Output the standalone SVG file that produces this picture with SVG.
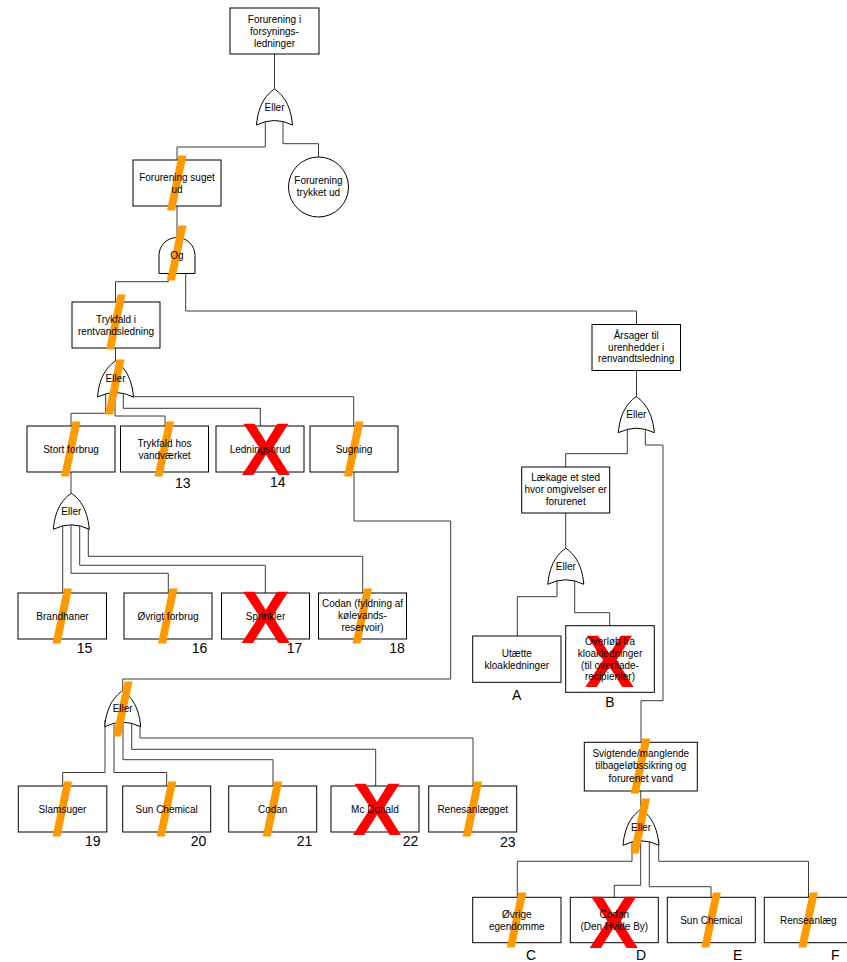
<svg xmlns="http://www.w3.org/2000/svg" xmlns:xlink="http://www.w3.org/1999/xlink" width="847" height="962" viewBox="0 0 847 962">
<style>
.bg{fill:#fff}
.box{fill:#fff;stroke:#000;stroke-width:1}
.gate{fill:#fff;stroke:#000;stroke-width:1}
.con{fill:none;stroke:#3a3a3a;stroke-width:1}
.t{font-family:"Liberation Sans",Arial,sans-serif;font-size:10px;fill:#000;text-anchor:middle}
.n{font-family:"Liberation Sans",Arial,sans-serif;font-size:14px;fill:#000}
.l{font-family:"Liberation Sans",Arial,sans-serif;font-size:14px;fill:#000;text-anchor:middle}
.x{font-family:"Liberation Sans",Arial,sans-serif;font-size:74px;font-weight:bold;fill:#ff0000;text-anchor:middle}
.sl{fill:#ff9900}
</style>
<defs>
<path id="or" d="M0,0 C6,4 16,13 18,36 Q0,27 -18,36 C-16,13 -6,4 0,0 Z"/>
<path id="and" d="M-18,36 L-18,18 A18,18 0 0 1 18,18 L18,36 Z"/>
<polygon id="slash" points="1.5,-27.5 9.5,-27.5 -2,27.5 -10,27.5"/>
</defs>
<rect class="bg" x="0" y="0" width="847" height="962"/>

<g id="connectors">
<polyline class="con" points="274.5,54 274.5,89"/>
<polyline class="con" points="265.3,120 265.3,147 177,147 177,160"/>
<polyline class="con" points="283,120 283,143.7 318.5,143.7 318.5,157"/>
<polyline class="con" points="177,206 177,237.7"/>
<polyline class="con" points="168.3,270 168.3,281.7 115.5,281.7 115.5,302"/>
<polyline class="con" points="185.7,270 185.7,311 636.5,311 636.5,324.5"/>
<polyline class="con" points="115.5,348 115.5,361"/>
<polyline class="con" points="105.7,390 105.7,413.3 71,413.3 71,426"/>
<polyline class="con" points="115,390 115,416 165,416 165,426"/>
<polyline class="con" points="123.3,390 123.3,408.3 260.3,408.3 260.3,426"/>
<polyline class="con" points="131,396.7 353.7,396.7 353.7,426"/>
<polyline class="con" points="71,472 71,493.3"/>
<polyline class="con" points="62.7,522 62.7,593"/>
<polyline class="con" points="71,522 71,573.3 168.3,573.3 168.3,593"/>
<polyline class="con" points="79.7,522 79.7,565.3 265.3,565.3 265.3,593"/>
<polyline class="con" points="88.3,525 88.3,556.3 362.7,556.3 362.7,593"/>
<polyline class="con" points="354,472 354,521 450.7,521 450.7,679 122.7,679 122.7,690.7"/>
<polyline class="con" points="105,720 105,772.5 62.7,772.5 62.7,786"/>
<polyline class="con" points="114,720 114,772.5 166.7,772.5 166.7,786"/>
<polyline class="con" points="123,720 123,759.7 273,759.7 273,786"/>
<polyline class="con" points="131.7,720 131.7,749.3 375.7,749.3 375.7,786"/>
<polyline class="con" points="140,722 140,738 473,738 473,786"/>
<polyline class="con" points="636.5,370.5 636.5,396.7"/>
<polyline class="con" points="627.3,425 627.3,453.7 565.7,453.7 565.7,467"/>
<polyline class="con" points="645.3,425 645.3,445 663,445 663,700.7 641,700.7 641,742.3"/>
<polyline class="con" points="565.7,513 565.7,548.3"/>
<polyline class="con" points="557,577 557,596.7 517.3,596.7 517.3,636"/>
<polyline class="con" points="574.7,577 574.7,612.7 609.7,612.7 609.7,625.7"/>
<polyline class="con" points="640.8,791 640.8,809.3"/>
<polyline class="con" points="632,838 632,861.3 517.3,861.3 517.3,897.3"/>
<polyline class="con" points="640.7,838 640.7,885.3 614.3,885.3 614.3,897.3"/>
<polyline class="con" points="649.3,838 649.3,886.7 711,886.7 711,897.3"/>
<polyline class="con" points="658.7,840 658.7,861.3 808.5,861.3 808.5,897.3"/>
</g>

<g id="top">
<rect class="box" x="230" y="8" width="89" height="46"/>
<text class="t" x="274.5" y="22.5">Forurening i</text>
<text class="t" x="274.5" y="34.5">forsynings-</text>
<text class="t" x="274.5" y="46.5">ledninger</text>
</g>
<g id="g1">
<use href="#or" x="274.5" y="89" class="gate"/>
<text class="t" x="274.5" y="110.5">Eller</text>
</g>
<g id="suget">
<rect class="box" x="133" y="160" width="88" height="46"/>
<use href="#slash" x="177" y="183" class="sl"/>
<text class="t" x="177" y="180.5">Forurening suget</text>
<text class="t" x="177" y="192.5">ud</text>
</g>
<g id="trykket">
<circle class="box" cx="318.5" cy="187" r="30"/>
<text class="t" x="318.5" y="183.5">Forurening</text>
<text class="t" x="318.5" y="195.5">trykket ud</text>
</g>
<g id="og">
<use href="#and" x="177" y="237.5" class="gate"/>
<use href="#slash" x="177" y="253" class="sl"/>
<text class="t" x="177" y="258.5">Og</text>
</g>
<g id="trykfald">
<rect class="box" x="72" y="302" width="88" height="46"/>
<use href="#slash" x="116" y="322" class="sl"/>
<text class="t" x="116" y="322.5">Trykfald i</text>
<text class="t" x="116" y="334.5">rentvandsledning</text>
</g>
<g id="g2">
<use href="#or" x="115.5" y="361" class="gate"/>
<use href="#slash" x="115" y="387" class="sl"/>
<text class="t" x="115.5" y="381.5">Eller</text>
</g>
<g id="stort">
<rect class="box" x="27" y="426" width="88" height="46"/>
<use href="#slash" x="71" y="449" class="sl"/>
<text class="t" x="71" y="452.5">Stort forbrug</text>
</g>
<g id="vandvaerket">
<rect class="box" x="120.5" y="426" width="88" height="46"/>
<use href="#slash" x="164.5" y="449" class="sl"/>
<text class="t" x="164.5" y="446.5">Trykfald hos</text>
<text class="t" x="164.5" y="458.5">vandværket</text>
<text class="n" x="175" y="488.3">13</text>
</g>
<g id="ledningsbrud">
<rect class="box" x="216" y="426" width="88" height="46"/>
<text class="x" x="266" y="475">X</text>
<text class="t" x="260" y="452.5">Ledningsbrud</text>
<text class="n" x="270" y="486.7">14</text>
</g>
<g id="sugning">
<rect class="box" x="310" y="426" width="88" height="46"/>
<use href="#slash" x="354" y="449" class="sl"/>
<text class="t" x="354" y="452.5">Sugning</text>
</g>
<g id="g3">
<use href="#or" x="71.3" y="493.3" class="gate"/>
<text class="t" x="71.3" y="514.8">Eller</text>
</g>
<g id="brandhaner">
<rect class="box" x="18" y="593" width="88.5" height="46"/>
<use href="#slash" x="62.5" y="616" class="sl"/>
<text class="t" x="62.5" y="619.5">Brandhaner</text>
<text class="n" x="76.7" y="653.3">15</text>
</g>
<g id="ovrigt">
<rect class="box" x="124" y="593" width="88" height="46"/>
<use href="#slash" x="168" y="616" class="sl"/>
<text class="t" x="168" y="619.5">Øvrigt forbrug</text>
<text class="n" x="191.7" y="653.3">16</text>
</g>
<g id="sprinkler">
<rect class="box" x="221.5" y="593" width="88" height="46"/>
<text class="x" x="265.8" y="642.7">X</text>
<text class="t" x="265.5" y="619.5">Sprinkler</text>
<text class="n" x="286.7" y="653.3">17</text>
</g>
<g id="codan1">
<rect class="box" x="318.5" y="593" width="88" height="46"/>
<use href="#slash" x="362.5" y="616" class="sl"/>
<text class="t" x="362.5" y="607">Codan (fyldning af</text>
<text class="t" x="362.5" y="619">kølevands-</text>
<text class="t" x="362.5" y="631">reservoir)</text>
<text class="n" x="389.3" y="653.3">18</text>
</g>
<g id="g4">
<use href="#or" x="122.7" y="690.7" class="gate"/>
<use href="#slash" x="123" y="709" class="sl"/>
<text class="t" x="122.7" y="712">Eller</text>
</g>
<g id="slamsuger">
<rect class="box" x="18.3" y="786" width="88.5" height="46"/>
<use href="#slash" x="62.5" y="809" class="sl"/>
<text class="t" x="62.5" y="812.5">Slamsuger</text>
<text class="n" x="85" y="845.7">19</text>
</g>
<g id="sunchem1">
<rect class="box" x="122.7" y="786" width="88" height="46"/>
<use href="#slash" x="166.7" y="809" class="sl"/>
<text class="t" x="166.7" y="812.5">Sun Chemical</text>
<text class="n" x="190.7" y="845.7">20</text>
</g>
<g id="codan2">
<rect class="box" x="228.7" y="786" width="88" height="46"/>
<use href="#slash" x="272.7" y="809" class="sl"/>
<text class="t" x="272.7" y="812.5">Codan</text>
<text class="n" x="296.7" y="845.7">21</text>
</g>
<g id="mcdonald">
<rect class="box" x="331" y="786" width="88" height="46"/>
<text class="x" x="377" y="835">X</text>
<text class="t" x="375" y="812.5">Mc Donald</text>
<text class="n" x="402.7" y="845.7">22</text>
</g>
<g id="renesanlaegget">
<rect class="box" x="428.7" y="786" width="88" height="46"/>
<use href="#slash" x="472.7" y="809" class="sl"/>
<text class="t" x="472.7" y="812.5">Renesanlægget</text>
<text class="n" x="500" y="846.7">23</text>
</g>
<g id="aarsager">
<rect class="box" x="592" y="324.5" width="88.5" height="46"/>
<text class="t" x="636.2" y="339">Årsager til</text>
<text class="t" x="636.2" y="350.7">urenhedder i</text>
<text class="t" x="636.2" y="362.3">renvandtsledning</text>
</g>
<g id="g5">
<use href="#or" x="636.3" y="396.7" class="gate"/>
<text class="t" x="636.3" y="418">Eller</text>
</g>
<g id="laekage">
<rect class="box" x="521.7" y="467" width="88" height="46"/>
<text class="t" x="565.7" y="481">Lækage et sted</text>
<text class="t" x="565.7" y="493">hvor omgivelser er</text>
<text class="t" x="565.7" y="505">forurenet</text>
</g>
<g id="g6">
<use href="#or" x="565.8" y="548.3" class="gate"/>
<text class="t" x="565.8" y="569.5">Eller</text>
</g>
<g id="utaette">
<rect class="box" x="472.7" y="636" width="88.3" height="46.3"/>
<text class="t" x="516.8" y="656.5">Utætte</text>
<text class="t" x="516.8" y="668.5">kloakledninger</text>
<text class="l" x="516.7" y="700">A</text>
</g>
<g id="overlob">
<rect class="box" x="565.7" y="625.7" width="88.6" height="66.6"/>
<text class="x" x="609.5" y="686.7">X</text>
<text class="t" x="610" y="645">Overløb fra</text>
<text class="t" x="610" y="656.8">kloakledninger</text>
<text class="t" x="610" y="668.6">(til overflade-</text>
<text class="t" x="610" y="680.4">recipienter)</text>
<text class="l" x="610" y="707.3">B</text>
</g>
<g id="svigtende">
<rect class="box" x="584.3" y="742.3" width="113" height="48.7"/>
<use href="#slash" x="640.8" y="766" class="sl"/>
<text class="t" x="640.8" y="756.8">Svigtende/manglende</text>
<text class="t" x="640.8" y="769.3">tilbageløbssikring og</text>
<text class="t" x="640.8" y="781.8">forurenet vand</text>
</g>
<g id="g7">
<use href="#or" x="641" y="809.3" class="gate"/>
<use href="#slash" x="640.5" y="826" class="sl"/>
<text class="t" x="641" y="830.5">Eller</text>
</g>
<g id="ovrige">
<rect class="box" x="472.7" y="897.3" width="88.3" height="45.4"/>
<use href="#slash" x="516.8" y="920" class="sl"/>
<text class="t" x="516.8" y="917.5">Øvrige</text>
<text class="t" x="516.8" y="929.5">egendomme</text>
<text class="l" x="531" y="960">C</text>
</g>
<g id="codan3">
<rect class="box" x="570.3" y="897.3" width="88" height="45.4"/>
<text class="x" x="613.7" y="948.3">X</text>
<text class="t" x="614.3" y="917.5">Codan</text>
<text class="t" x="614.3" y="929.5">(Den Hvide By)</text>
<text class="l" x="641" y="960">D</text>
</g>
<g id="sunchem2">
<rect class="box" x="667.3" y="897.3" width="88" height="45.4"/>
<use href="#slash" x="711.3" y="920" class="sl"/>
<text class="t" x="711.3" y="923.5">Sun Chemical</text>
<text class="l" x="737.7" y="960">E</text>
</g>
<g id="renseanlaeg">
<rect class="box" x="764.3" y="897.3" width="88" height="45.4"/>
<use href="#slash" x="808.3" y="920" class="sl"/>
<text class="t" x="808.3" y="923.5">Renseanlæg</text>
<text class="l" x="835.3" y="960">F</text>
</g>
</svg>
